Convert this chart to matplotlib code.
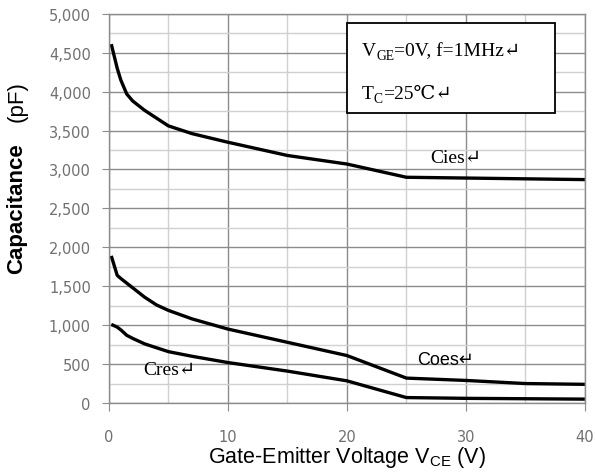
import matplotlib
matplotlib.use("Agg")
import matplotlib.pyplot as plt
from matplotlib.patches import Rectangle
from matplotlib.ticker import MultipleLocator, FuncFormatter

# capacitance vs V_CE
vce = [0.2, 0.7, 1, 1.5, 2, 3, 4, 5, 7, 10, 15, 20, 25, 30, 35, 40]
cies = [4610, 4300, 4150, 3970, 3880, 3760, 3660, 3560, 3460, 3350, 3180, 3070, 2900, 2890, 2880, 2870]
coes = [1890, 1640, 1600, 1540, 1480, 1360, 1260, 1190, 1080, 950, 780, 610, 320, 290, 250, 240]
cres = [1010, 975, 940, 870, 830, 760, 710, 660, 600, 520, 410, 285, 70, 60, 55, 50]

xticks = [0, 10, 20, 30, 40]
yticks = list(range(0, 5001, 500))

serif = ["Liberation Serif", "DejaVu Serif", "DejaVu Sans", "Noto Sans CJK SC"]
sans = ["Liberation Sans", "DejaVu Sans", "Noto Sans CJK SC"]

fig = plt.figure(figsize=(5.95, 4.77), dpi=100)
ax = fig.add_axes([0.183, 0.153, 0.800, 0.816])

for series in (cies, coes, cres):
    ax.plot(vce, series, color="black", lw=2.4, solid_capstyle="butt")

ax.set_xlim(0, 40)
ax.set_ylim(0, 5000)
ax.set_xticks(xticks)
ax.set_yticks(yticks)
ax.xaxis.set_minor_locator(MultipleLocator(5))
ax.yaxis.set_minor_locator(MultipleLocator(250))
ax.yaxis.set_major_formatter(FuncFormatter(lambda v, p: f"{int(v):,}"))

ax.grid(True, which="major", color="#8c8c8c", lw=1.0)
ax.grid(True, which="minor", color="#d0d0d0", lw=1.0)
ax.set_axisbelow(True)
for s in ax.spines.values():
    s.set_color("#8c8c8c")
    s.set_linewidth(1.0)

ax.tick_params(which="major", direction="out", color="#8c8c8c", labelcolor="#707070",
               labelsize=10.5, labelfontfamily="DejaVu Sans")
ax.tick_params(axis="x", which="major", length=6, pad=13)
ax.tick_params(axis="y", which="major", length=5, pad=8)
ax.tick_params(which="minor", length=0)

ax.set_xlabel("Gate-Emitter Voltage V$_{\\mathregular{CE}}$ (V)", fontsize=15.5,
              family="Liberation Sans", labelpad=0)

fig.text(0.028, 0.562, "Capacitance", rotation=90, fontsize=16, fontweight="bold",
         family="Liberation Sans", ha="center", va="center")
fig.text(0.028, 0.788, "(pF)", rotation=90, fontsize=16,
         family="Liberation Sans", ha="center", va="center")

# condition box
ax.add_patch(Rectangle((0.5, 0.745), 0.437, 0.232, transform=ax.transAxes,
                       fc="white", ec="black", lw=1.3, zorder=3))


def sub_line(x, y, main, sub, rest, size):
    t1 = ax.text(x, y, main, transform=ax.transAxes, fontsize=size, family=serif,
                 va="baseline", ha="left", zorder=4)
    t2 = ax.annotate(sub, xy=(1, y), xycoords=(t1, ax.transAxes), xytext=(0, -3),
                     textcoords="offset points", fontsize=size * 0.7, family=serif,
                     va="baseline", ha="left", zorder=4)
    ax.annotate(rest, xy=(1, y), xycoords=(t2, ax.transAxes), fontsize=size,
                family=serif, va="baseline", ha="left", zorder=4)


sub_line(0.532, 0.895, "V", "GE", "=0V, f=1MHz\u21b5", 14)
sub_line(0.532, 0.783, "T", "C", "=25\u2103\u21b5", 14)

ax.text(27.0, 3150, "Cies\u21b5", fontsize=14, family=serif, ha="left", va="center")
ax.text(25.9, 560, "Coes\u21b5", fontsize=13, family=sans, ha="left", va="center")
ax.text(2.9, 430, "Cres\u21b5", fontsize=14, family=serif, ha="left", va="center")

fig.savefig("out.png", dpi=100)
